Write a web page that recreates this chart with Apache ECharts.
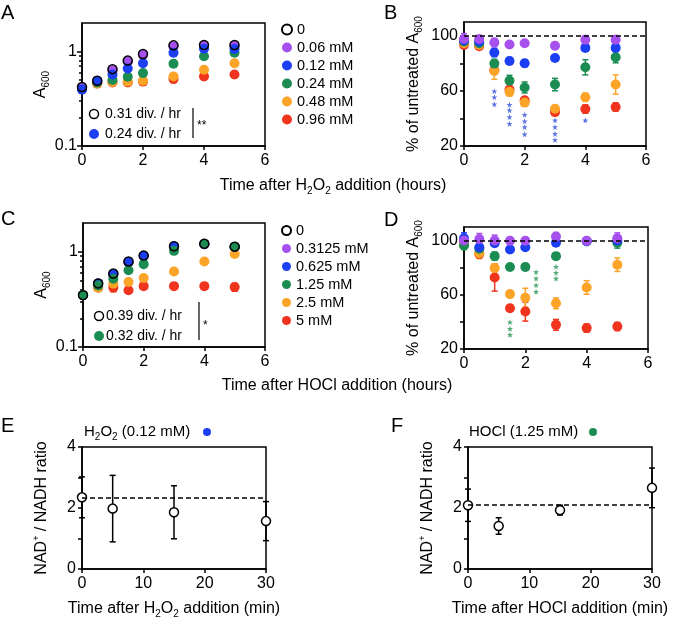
<!DOCTYPE html>
<html><head><meta charset="utf-8">
<script src="https://cdn.jsdelivr.net/npm/echarts@6/dist/echarts.min.js"></script>
<style>html,body{margin:0;padding:0;background:#fff}#c{width:675px;height:624px}</style>
</head><body><div id="c"></div>
<script>
const FONT = '"Liberation Sans", Arial, Helvetica, sans-serif';

// ---------- data ----------
const timeH = [0, 0.5, 1, 1.5, 2, 3, 4, 5];
const h2o2Doses = ['0', '0.06 mM', '0.12 mM', '0.24 mM', '0.48 mM', '0.96 mM'];
const hoclDoses = ['0', '0.3125 mM', '0.625 mM', '1.25 mM', '2.5 mM', '5 mM'];
const doseColors = ['#000000', '#a651ee', '#1c3ff4', '#1b8d52', '#fba427', '#f1341d'];

// Panel A: A600 after H2O2
const aCtrl = [0.42, 0.49, 0.65, 0.80, 0.94, 1.16, 1.17, 1.17];
const a006  = [0.41, 0.49, 0.63, 0.78, 0.92, 1.13, 1.15, 1.14];
const a012  = [0.395, 0.487, 0.57, 0.66, 0.75, 0.97, 1.07, 1.06];
const a024  = [0.40, 0.47, 0.50, 0.54, 0.59, 0.74, 0.89, 0.97];
const a048  = [0.40, 0.46, 0.475, 0.48, 0.49, 0.545, 0.64, 0.75];
const a096  = [0.40, 0.457, 0.47, 0.47, 0.48, 0.51, 0.545, 0.57];

// Panel B: % of untreated A600 (H2O2), mean and error
const b006 = [97.6, 97.6, 95.1, 93.7, 94.6, 92.7, 97.1, 97.1];
const b012 = [96.6, 95.8, 87.8, 81.7, 80.0, 83.9, 91.2, 91.2];
const b024 = [95.8, 94.6, 79.8, 67.3, 62.5, 64.6, 77.1, 84.4];
const b048 = [94.6, 93.4, 74.4, 59.3, 51.5, 47.1, 55.4, 64.6];
const b096 = [93.4, 92.4, 75.0, 61.0, 53.2, 44.6, 46.8, 48.3];
const be006 = [4, 2, 3, 1, 1, 1, 3, 3];
const be012 = [3, 2, 3, 2.5, 2.5, 1.5, 2, 2];
const be024 = [3, 2, 3, 4, 4, 4.5, 5.5, 4];
const be048 = [3, 2, 6, 3, 2, 1.5, 3, 7];
const be096 = [2, 1.5, 2, 2, 2, 1.5, 3, 3];
const starsB = [[1, 59.8], [1, 55.4], [1, 50.3],
  [1.5, 50], [1.5, 45.9], [1.5, 41], [1.5, 36.1],
  [2, 42.7], [2, 38], [2, 33.7], [2, 28.5],
  [3, 38.6], [3, 33.7], [3, 28.8], [3, 24.4],
  [4, 38.6]];

// Panel C: A600 after HOCl
const cCtrl  = [0.35, 0.465, 0.59, 0.79, 0.91, 1.14, 1.21, 1.13];
const c03125 = [0.35, 0.465, 0.58, 0.77, 0.90, 1.13, 1.20, 1.12];
const c0625  = [0.35, 0.465, 0.58, 0.78, 0.905, 1.14, 1.20, 1.12];
const c125   = [0.35, 0.443, 0.52, 0.64, 0.74, 1.02, 1.21, 1.13];
const c25    = [0.35, 0.418, 0.46, 0.48, 0.53, 0.62, 0.79, 0.945];
const c5     = [0.35, 0.42, 0.42, 0.394, 0.435, 0.435, 0.435, 0.425];
const ce5    = [0.01, 0.01, 0.04, 0.02, 0.03, 0.03, 0.03, 0.04];

// Panel D: % of untreated A600 (HOCl)
const d03125 = [100, 101.2, 100, 99.8, 99.8, 102.9, 99.8, 101.7];
const d0625  = [101.7, 95.1, 98, 93.4, 95.1, 98.4, 99.5, 100];
const d125   = [96.3, 94, 88.5, 80.5, 80.5, 88.5, 99.5, 98.4];
const d25    = [97, 90.7, 79.8, 60.5, 57.8, 53.7, 65.4, 82.2];
const d5     = [98, 90, 72.7, 50, 47.6, 37.8, 35.4, 36.6];
const de03125 = [3, 4, 4, 1, 1, 3, 1, 4];
const de0625  = [4, 5, 2, 2, 2, 2, 2, 3];
const de125   = [3, 2, 3, 2, 2.5, 2, 2, 4];
const de25    = [3, 4, 3, 2, 7, 4, 5, 5];
const de5     = [2, 2, 10, 2, 7, 4, 3, 3];
const starsD = [[1.5, 39.8], [1.5, 34.9], [1.5, 30.5],
  [2.35, 76.8], [2.35, 72], [2.35, 67.1], [2.35, 62.2],
  [3, 80.7], [3, 76.3], [3, 72]];

// Panels E, F: NAD+/NADH ratio
const nadTimes = [0, 5, 15, 30];
const eRatio = [2.35, 1.98, 1.86, 1.57];
const eErr   = [0.67, 1.09, 0.87, 0.64];
const eMean  = 2.35;
const fRatio = [2.09, 1.41, 1.93, 2.66];
const fErr   = [0.53, 0.27, 0.16, 0.65];
const fMean  = 2.1;

// tick labels
const logMajor = [0.1, 1];
const logMinor = [0.2, 0.3, 0.4, 0.5, 0.6, 0.7, 0.8, 0.9];
const pctTicks = [20, 40, 60, 80, 100];
const pctLabels = [20, 60, 100];
const nadTicks = [0, 1, 2, 3, 4];
const nadLabels = [0, 2, 4];

// ---------- helpers ----------
const pts = (xs, ys) => xs.map((x, i) => [x, ys[i]]);
const errPts = (xs, ys, es) => xs.map((x, i) => [x, ys[i], es[i]]);
const rich = {
  n: {fontSize: 16, fontFamily: FONT, color: '#000', lineHeight: 20, verticalAlign: 'middle'},
  s: {fontSize: 10, fontFamily: FONT, color: '#000', lineHeight: 10, verticalAlign: 'bottom'},
  p: {fontSize: 9, fontFamily: FONT, color: '#000', lineHeight: 10, verticalAlign: 'top'},
  m: {fontSize: 15, fontFamily: FONT, color: '#000', lineHeight: 20, verticalAlign: 'middle'},
  ms: {fontSize: 10, fontFamily: FONT, color: '#000', lineHeight: 10, verticalAlign: 'bottom'}
};
const LS = {color: '#000', width: 1.5};
function xAx(grid, min, max, interval, name) {
  return {type: 'value', gridIndex: grid, min, max, interval,
    axisLine: {show: true, lineStyle: LS}, axisTick: {show: true, length: 4, lineStyle: LS},
    axisLabel: {fontSize: 16, fontFamily: FONT, color: '#000', margin: 7},
    splitLine: {show: false},
    name: name || '', nameLocation: 'middle', nameGap: 30,
    nameTextStyle: {rich}};
}
function yVal(grid, min, max, ticks, labels, name, gap) {
  return {type: 'value', gridIndex: grid, min, max,
    axisLine: {show: true, lineStyle: LS},
    axisTick: {show: true, length: 4, lineStyle: LS, customValues: ticks},
    axisLabel: {fontSize: 16, fontFamily: FONT, color: '#000', margin: 6, customValues: labels},
    splitLine: {show: false},
    name, nameLocation: 'middle', nameGap: gap, nameTextStyle: {rich}};
}
function yLog(grid, name, gap) {
  return {type: 'log', logBase: 10, gridIndex: grid, min: 0.1, max: 2,
    axisLine: {show: true, lineStyle: LS},
    axisTick: {show: true, length: 5, lineStyle: LS, customValues: logMajor},
    axisLabel: {fontSize: 16, fontFamily: FONT, color: '#000', margin: 5, customValues: logMajor,
      formatter: v => String(+v.toPrecision(3))},
    splitLine: {show: false},
    name, nameLocation: 'middle', nameGap: gap, nameTextStyle: {rich}};
}
function yLogMinor(grid) {
  return {type: 'log', logBase: 10, gridIndex: grid, min: 0.1, max: 2, position: 'left', offset: 0,
    axisLine: {show: false},
    axisTick: {show: true, length: 3, lineStyle: LS, customValues: logMinor},
    axisLabel: {show: false}, splitLine: {show: false}};
}
function errRender(color, cap) {
  return function (params, api) {
    const x = api.value(0), y = api.value(1), e = api.value(2);
    const p1 = api.coord([x, y + e]), p2 = api.coord([x, y - e]);
    const st = {stroke: color, lineWidth: 1.5, fill: null};
    return {type: 'group', children: [
      {type: 'line', shape: {x1: p1[0], y1: p1[1], x2: p2[0], y2: p2[1]}, style: st},
      {type: 'line', shape: {x1: p1[0] - cap, y1: p1[1], x2: p1[0] + cap, y2: p1[1]}, style: st},
      {type: 'line', shape: {x1: p2[0] - cap, y1: p2[1], x2: p2[0] + cap, y2: p2[1]}, style: st}
    ]};
  };
}
function errSeries(xi, yi, data, color, cap) {
  return {type: 'custom', xAxisIndex: xi, yAxisIndex: yi, data, clip: false, silent: true,
    renderItem: errRender(color, cap || 3), encode: {x: 0, y: 1}};
}
function dots(name, xi, yi, data, color, size) {
  return {type: 'scatter', name, xAxisIndex: xi, yAxisIndex: yi, data, clip: false, silent: true,
    symbol: 'circle', symbolSize: size || 10, itemStyle: {color, opacity: 1}};
}
function ring(name, xi, yi, data, fill, size) {
  return {type: 'scatter', name, xAxisIndex: xi, yAxisIndex: yi, data, clip: false, silent: true,
    symbol: 'circle', symbolSize: size || 9,
    itemStyle: {color: fill, borderColor: '#000', borderWidth: 1.5, opacity: 1}};
}
const STAR = 'path://M0,-10L2.35,-3.24L9.51,-3.09L3.8,1.24L5.88,8.09L0,4L-5.88,8.09L-3.8,1.24L-9.51,-3.09L-2.35,-3.24Z';
function stars(xi, yi, data, color) {
  return {type: 'scatter', xAxisIndex: xi, yAxisIndex: yi, data, clip: false, silent: true,
    symbol: STAR, symbolSize: 6, itemStyle: {color}};
}
function dashLine(v) {
  return {silent: true, symbol: 'none', label: {show: false},
    lineStyle: {type: [5, 3], color: '#000', width: 1.5}, data: [{yAxis: v}]};
}
const EMPTY = 'rgba(255,255,255,0)';
const C = doseColors;

// ---------- series ----------
const series = [
  // A (x0, y0)
  dots(h2o2Doses[5], 0, 0, pts(timeH, a096), C[5]),
  dots(h2o2Doses[4], 0, 0, pts(timeH, a048), C[4]),
  dots(h2o2Doses[3], 0, 0, pts(timeH, a024), C[3]),
  dots(h2o2Doses[1], 0, 0, pts(timeH, a006), C[1]),
  dots(h2o2Doses[2], 0, 0, pts(timeH, a012), C[2]),
  ring(h2o2Doses[0], 0, 0, pts(timeH, aCtrl), EMPTY),
  // B (x1, y2)
  errSeries(1, 2, errPts(timeH, b096, be096), C[5]),
  dots(h2o2Doses[5], 1, 2, pts(timeH, b096), C[5]),
  errSeries(1, 2, errPts(timeH, b048, be048), C[4]),
  dots(h2o2Doses[4], 1, 2, pts(timeH, b048), C[4]),
  errSeries(1, 2, errPts(timeH, b024, be024), C[3]),
  dots(h2o2Doses[3], 1, 2, pts(timeH, b024), C[3]),
  errSeries(1, 2, errPts(timeH, b012, be012), C[2]),
  dots(h2o2Doses[2], 1, 2, pts(timeH, b012), C[2]),
  errSeries(1, 2, errPts(timeH, b006, be006), C[1]),
  Object.assign(dots(h2o2Doses[1], 1, 2, pts(timeH, b006), C[1]), {markLine: dashLine(100)}),
  stars(1, 2, starsB, '#3452dc'),
  // C (x2, y3)
  errSeries(2, 3, errPts(timeH, c5, ce5), C[5]),
  dots(hoclDoses[5], 2, 3, pts(timeH, c5), C[5]),
  dots(hoclDoses[4], 2, 3, pts(timeH, c25), C[4]),
  dots(hoclDoses[1], 2, 3, pts(timeH, c03125), C[1]),
  dots(hoclDoses[2], 2, 3, pts(timeH, c0625), C[2]),
  dots(hoclDoses[3], 2, 3, pts(timeH, c125), C[3]),
  ring(hoclDoses[0], 2, 3, pts(timeH, cCtrl), EMPTY),
  // D (x3, y5)
  errSeries(3, 5, errPts(timeH, d5, de5), C[5]),
  dots(hoclDoses[5], 3, 5, pts(timeH, d5), C[5]),
  errSeries(3, 5, errPts(timeH, d25, de25), C[4]),
  dots(hoclDoses[4], 3, 5, pts(timeH, d25), C[4]),
  errSeries(3, 5, errPts(timeH, d125, de125), C[3]),
  dots(hoclDoses[3], 3, 5, pts(timeH, d125), C[3]),
  errSeries(3, 5, errPts(timeH, d0625, de0625), C[2]),
  dots(hoclDoses[2], 3, 5, pts(timeH, d0625), C[2]),
  errSeries(3, 5, errPts(timeH, d03125, de03125), C[1]),
  Object.assign(dots(hoclDoses[1], 3, 5, pts(timeH, d03125), C[1]), {markLine: dashLine(100)}),
  stars(3, 5, starsD, '#279553'),
  // E (x4, y6)
  errSeries(4, 6, errPts(nadTimes, eRatio, eErr), '#000', 3),
  Object.assign(ring('E', 4, 6, pts(nadTimes, eRatio), '#fff', 9), {markLine: dashLine(eMean)}),
  // F (x5, y7)
  errSeries(5, 7, errPts(nadTimes, fRatio, fErr), '#000', 3),
  Object.assign(ring('F', 5, 7, pts(nadTimes, fRatio), '#fff', 9), {markLine: dashLine(fMean)})
];

// ---------- graphic annotations ----------
const txt = (x, y, text, size, align, extra) => Object.assign({type: 'text', x, y, silent: true,
  style: {text, fontSize: size, fontFamily: FONT, fill: '#000', align: align || 'left', verticalAlign: 'middle', rich}}, extra || {});
const circ = (cx, cy, r, fill, stroke) => ({type: 'circle', silent: true, shape: {cx, cy, r},
  style: {fill, stroke: stroke || null, lineWidth: 1.5}});
const graphic = [
  txt(1, 13, 'A', 20), txt(384, 13, 'B', 20), txt(1, 219, 'C', 20),
  txt(384, 220, 'D', 20), txt(1, 426, 'E', 20), txt(391, 426, 'F', 20),
  txt(333, 186, '{n|Time after H}{s|2}{n|O}{s|2}{n| addition (hours)}', 16, 'center'),
  txt(337, 386, '{n|Time after HOCl addition (hours)}', 16, 'center'),
  // A inner legend
  circ(94, 114, 4.5, '#fff', '#000'), txt(105, 114, '0.31 div. / hr', 14),
  circ(94, 134, 5, C[2]), txt(105, 134, '0.24 div. / hr', 14),
  {type: 'line', silent: true, shape: {x1: 193, y1: 108, x2: 193, y2: 138}, style: {stroke: '#000', lineWidth: 1.2}},
  txt(197, 126, '**', 12),
  // C inner legend
  circ(99, 316, 4.5, '#fff', '#000'), txt(106, 316, '0.39 div. / hr', 14),
  circ(99, 336, 5, C[3]), txt(106, 336, '0.32 div. / hr', 14),
  {type: 'line', silent: true, shape: {x1: 199, y1: 302, x2: 199, y2: 340}, style: {stroke: '#000', lineWidth: 1.2}},
  txt(203, 326, '*', 12),
  // E/F titles
  txt(84, 432, '{m|H}{ms|2}{m|O}{ms|2}{m| (0.12 mM)}', 15), circ(207, 432, 4, C[2]),
  txt(469, 432, '{m|HOCl (1.25 mM)}', 15), circ(593, 432, 4, C[3])
];

const option = {
  animation: false,
  backgroundColor: '#fff',
  textStyle: {fontFamily: FONT},
  grid: [
    {left: 82, top: 23, width: 183, height: 123},
    {left: 464, top: 22, width: 182, height: 124},
    {left: 83, top: 223, width: 182, height: 124},
    {left: 464, top: 227, width: 184, height: 122},
    {left: 82, top: 447, width: 184, height: 122},
    {left: 468, top: 447, width: 184, height: 122}
  ].map(g => Object.assign(g, {show: true, borderColor: '#000', borderWidth: 1.5, backgroundColor: 'transparent'})),
  xAxis: [
    xAx(0, 0, 6, 2), xAx(1, 0, 6, 2), xAx(2, 0, 6, 2), xAx(3, 0, 6, 2),
    xAx(4, 0, 30, 10, '{n|Time after H}{s|2}{n|O}{s|2}{n| addition (min)}'),
    xAx(5, 0, 30, 10, '{n|Time after HOCl addition (min)}')
  ],
  yAxis: [
    yLog(0, '{n|A}{s|600}', 28), yLogMinor(0),
    yVal(1, 20, 110, pctTicks, pctLabels, '{n|% of untreated A}{s|600}', 40),
    yLog(2, '{n|A}{s|600}', 28), yLogMinor(2),
    yVal(3, 20, 110, pctTicks, pctLabels, '{n|% of untreated A}{s|600}', 40),
    yVal(4, 0, 4, nadTicks, nadLabels, '{n|NAD}{p|+}{n| / NADH ratio}', 30),
    yVal(5, 0, 4, nadTicks, nadLabels, '{n|NAD}{p|+}{n| / NADH ratio}', 30)
  ],
  legend: [
    {data: h2o2Doses, orient: 'vertical', left: 276, top: 17, itemWidth: 10, itemHeight: 10, itemGap: 3,
      icon: 'circle', selectedMode: false, textStyle: {fontSize: 14.5, fontFamily: FONT, color: '#000'}},
    {data: hoclDoses, orient: 'vertical', left: 276, top: 218, itemWidth: 9, itemHeight: 9, itemGap: 3,
      icon: 'circle', selectedMode: false, textStyle: {fontSize: 14.5, fontFamily: FONT, color: '#000'}}
  ],
  graphic,
  series
};
const chart = echarts.init(document.getElementById('c'), null, {renderer: 'canvas'});
chart.setOption(option);
</script></body></html>
